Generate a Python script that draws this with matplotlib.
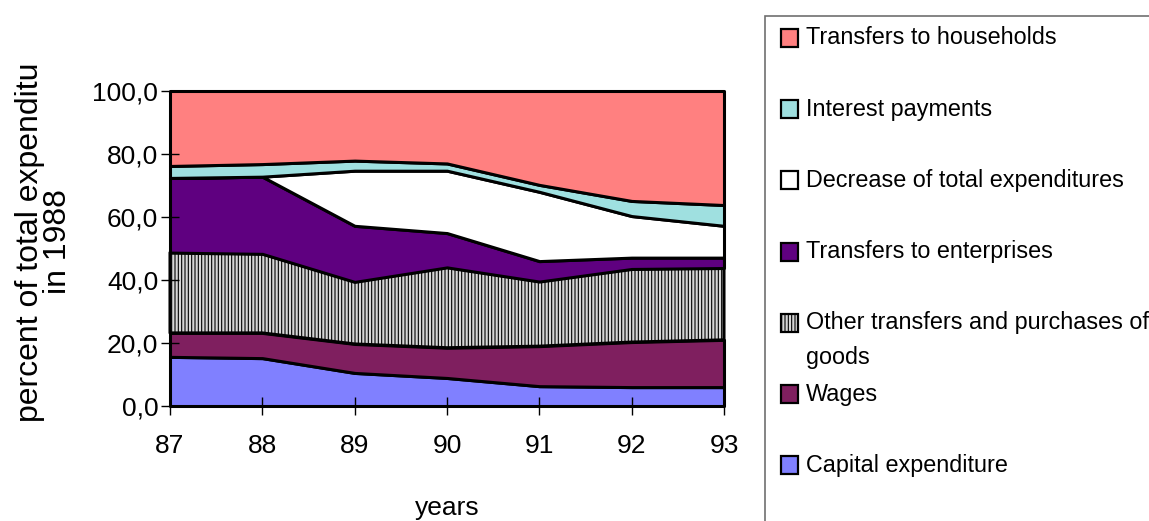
import numpy as np
import matplotlib
matplotlib.use("Agg")
import matplotlib.pyplot as plt
from matplotlib.patches import Rectangle

plt.rcParams['font.family'] = ['Liberation Sans', 'DejaVu Sans']
plt.rcParams['hatch.color'] = '#999999'
plt.rcParams['hatch.linewidth'] = 0.8

# years on the x axis
years = [87, 88, 89, 90, 91, 92, 93]
year_labels = ['87', '88', '89', '90', '91', '92', '93']

# shares of 1988 total expenditure, bottom layer first
capital = [15.6, 15.2, 10.5, 8.9, 6.3, 6.0, 6.0]
wages = [7.6, 8.0, 9.2, 9.6, 12.7, 14.3, 15.0]
other = [25.5, 25.1, 19.7, 25.5, 20.5, 23.2, 22.8]
enterprises = [23.7, 24.5, 17.8, 10.9, 6.5, 3.6, 3.3]
decrease = [0.0, 0.0, 17.5, 19.8, 22.0, 13.2, 10.1]
interest = [3.8, 4.0, 3.2, 2.3, 2.2, 4.8, 6.6]
households = [23.8, 23.2, 22.1, 23.0, 29.8, 34.9, 36.2]

series = [capital, wages, other, enterprises, decrease, interest, households]
colors = ['#8080FF', '#7F1F5F', '#D6D6D6', '#5F0080', '#FFFFFF', '#9FE0E0', '#FF8080']
hatches = [None, None, '|||||', None, None, None, None]

# legend order (top to bottom)
legend_names = ['Transfers to households', 'Interest payments',
                'Decrease of total expenditures', 'Transfers to enterprises',
                'Other transfers and purchases of\ngoods', 'Wages',
                'Capital expenditure']
legend_idx = [6, 5, 4, 3, 2, 1, 0]

W, H = 1149, 521
fig = plt.figure(figsize=(W / 100, H / 100), dpi=100)
ax = fig.add_axes([170 / W, 1 - 406 / H, (724 - 170) / W, (406 - 91) / H])

polys = ax.stackplot(years, *series, colors=colors, edgecolor='black', linewidth=2.2)
for p, h in zip(polys, hatches):
    p.set_clip_on(False)
    if h:
        p.set_hatch(h)

ax.set_xlim(87, 93)
ax.set_ylim(0, 100)
ax.set_xticks(years)
ax.set_xticklabels(year_labels)
ax.set_yticks(np.arange(0, 101, 20))
ax.set_yticklabels(['%d,0' % v for v in range(0, 101, 20)])
ax.tick_params(axis='both', direction='inout', length=13, width=1, labelsize=19)
ax.tick_params(axis='x', pad=14)
ax.tick_params(axis='y', pad=2)
for s in ['top', 'right']:
    ax.spines[s].set_visible(False)
for s in ['left', 'bottom']:
    ax.spines[s].set_linewidth(1.0)

fig.text(44 / W, 1 - 242 / H, 'percent of total expenditu\nin 1988', rotation=90,
         ha='center', va='center', multialignment='center', fontsize=23,
         linespacing=0.95)
fig.text(447 / W, 1 - 508 / H, 'years', ha='center', va='center', fontsize=19)

# legend box, running off the right and bottom edges
fig.patches.append(Rectangle((765 / W, -0.1), 1.0, 1.1 - 16 / H, transform=fig.transFigure,
                             facecolor='white', edgecolor='#707070', linewidth=1.2))
y0, step = 38, 71.2
for k, (name, i) in enumerate(zip(legend_names, legend_idx)):
    yc = y0 + k * step
    fig.patches.append(Rectangle((781 / W, 1 - (yc + 9) / H), 17 / W, 18 / H,
                                 transform=fig.transFigure, facecolor=colors[i],
                                 edgecolor='black', linewidth=1.6, hatch=hatches[i]))
    lines = name.split('\n')
    for j, line in enumerate(lines):
        fig.text(806 / W, 1 - (yc + j * 35) / H, line, ha='left', va='center', fontsize=16.8)

fig.savefig('out.png', dpi=100)
